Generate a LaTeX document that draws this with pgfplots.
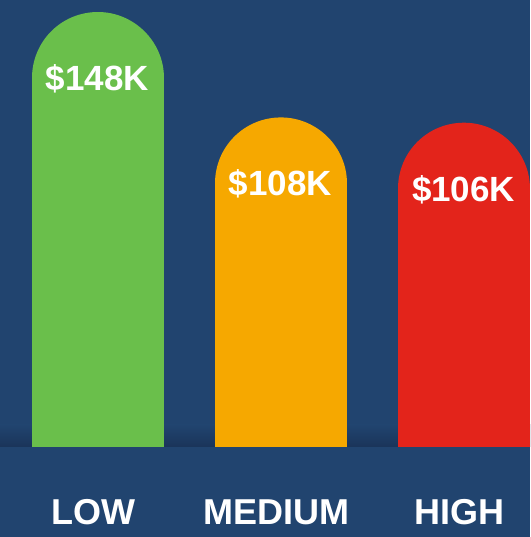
\documentclass[border=0pt]{standalone}
\usepackage{fontspec}
\setmainfont{Liberation Sans}
\usepackage{pgfplots}
\pgfplotsset{compat=1.18}
\definecolor{bgblue}{HTML}{21446F}
\definecolor{bgshadow}{HTML}{1A3459}
\definecolor{lowgreen}{HTML}{6ABF4B}
\definecolor{medorange}{HTML}{F6A800}
\definecolor{highred}{HTML}{E3241B}

\begin{document}
\begin{tikzpicture}
\useasboundingbox (0,0) rectangle (530pt,537pt);
\fill[bgblue] (0,0) rectangle (530pt,537pt);
\shade[top color=bgblue, bottom color=bgshadow] (0,90pt) rectangle (530pt,112pt);
\begin{axis}[
  at={(0pt,90pt)}, anchor=south west,
  scale only axis, width=530pt, height=447pt,
  xmin=-0.533, xmax=2.363,
  ymin=8, ymax=177.6,
  axis line style={draw=none},
  major tick length=0pt,
  ytick=\empty,
  xtick={0,1,2},
  xticklabels={LOW,MEDIUM,HIGH},
  x tick label style={anchor=base, yshift=-77pt, xshift=-4pt,
    font=\bfseries\fontsize{36}{36}\selectfont, text=white},
  nodes near coords={\$\pgfmathprintnumber[assume math mode=true]{\pgfplotspointmeta}K},
  every node near coord/.append style={anchor=base, yshift=-12.5pt,
    font=\bfseries\fontsize{35}{35}\selectfont, text=white},
]
\addplot[ycomb, draw=lowgreen, line width=132pt, line cap=round] coordinates {(0,148)};
\addplot[ycomb, draw=medorange, line width=132pt, line cap=round] coordinates {(1,108)};
\addplot[ycomb, draw=highred, line width=132pt, line cap=round] coordinates {(2,106)};
\end{axis}
\end{tikzpicture}
\end{document}
